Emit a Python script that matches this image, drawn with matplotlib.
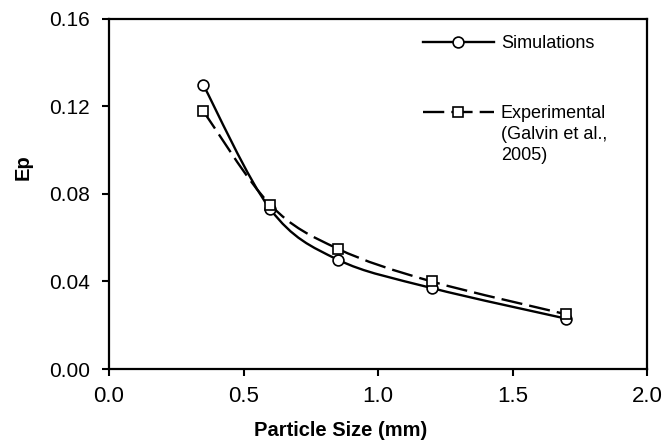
import numpy as np
import matplotlib
matplotlib.use("Agg")
import matplotlib.pyplot as plt
from matplotlib.path import Path
from matplotlib.patches import PathPatch
from matplotlib.lines import Line2D
from matplotlib.legend_handler import HandlerLine2D

# ---- data ----
particle_size = [0.35, 0.6, 0.85, 1.2, 1.7]
ep_simulations = [0.130, 0.073, 0.050, 0.037, 0.023]
ep_experimental = [0.118, 0.075, 0.055, 0.040, 0.025]
x_ticks = [0.0, 0.5, 1.0, 1.5, 2.0]
y_ticks = [0.00, 0.04, 0.08, 0.12, 0.16]
label_sim = "Simulations"
label_exp = "Experimental\n(Galvin et al.,\n2005)"

plt.rcParams['font.family'] = ['Liberation Sans', 'DejaVu Sans']


def smooth_path(x, y):
    """Excel-like smoothed line: cubic Bezier through the data points."""
    pts = np.column_stack([x, y]).astype(float)
    n = len(pts)
    verts = [pts[0]]
    codes = [Path.MOVETO]
    for i in range(n - 1):
        p0 = pts[i - 1] if i > 0 else pts[i]
        p1 = pts[i]
        p2 = pts[i + 1]
        p3 = pts[i + 2] if i + 2 < n else pts[i + 1]
        c1 = p1 + (p2 - p0) / 6.0
        c2 = p2 - (p3 - p1) / 6.0
        verts += [c1, c2, p2]
        codes += [Path.CURVE4] * 3
    return Path(verts, codes)


class ShiftedHandler(HandlerLine2D):
    def __init__(self, shift=0.0, **kw):
        super().__init__(**kw)
        self.shift = shift

    def create_artists(self, legend, orig_handle, xdescent, ydescent,
                       width, height, fontsize, trans):
        arts = super().create_artists(legend, orig_handle, xdescent, ydescent,
                                      width, height, fontsize, trans)
        for a in arts:
            a.set_ydata(np.asarray(a.get_ydata(), dtype=float) + self.shift * fontsize)
        return arts


fig = plt.figure(figsize=(6.63, 4.44), dpi=100)
ax = fig.add_axes([109 / 663, 75 / 444, 538 / 663, 350 / 444])

lw = 1.7
dash = (0, (9.0, 3.0))
mk = dict(markersize=7.8, markerfacecolor='white', markeredgecolor='black',
          markeredgewidth=1.2)

ax.add_patch(PathPatch(smooth_path(particle_size, ep_simulations), fill=False,
                       edgecolor='black', linewidth=lw, zorder=2))
ax.add_patch(PathPatch(smooth_path(particle_size, ep_experimental), fill=False,
                       edgecolor='black', linewidth=lw, linestyle=dash, zorder=2))
ax.plot(particle_size, ep_simulations, linestyle='none', marker='o', zorder=3, **mk)
ax.plot(particle_size, ep_experimental, linestyle='none', marker='s', zorder=4, **mk)

ax.set_xlim(0, 2.0)
ax.set_ylim(0, 0.16)
ax.set_xticks(x_ticks)
ax.set_yticks(y_ticks)
ax.set_xticklabels([f"{v:.1f}" for v in x_ticks], fontsize=16)
ax.set_yticklabels([f"{v:.2f}" for v in y_ticks], fontsize=15)
ax.tick_params(direction='out', length=5, width=1.5, color='black')
ax.tick_params(axis='y', pad=8.5)
ax.tick_params(axis='x', pad=7)

for s in ['top', 'right', 'left', 'bottom']:
    ax.spines[s].set_linewidth(1.6)
    ax.spines[s].set_color('black')

ax.set_xlabel("Particle Size (mm)", fontsize=14.5, fontweight='bold', va='center')
ax.set_ylabel("Ep", fontsize=14.5, fontweight='bold', va='center')
ax.xaxis.set_label_coords(0.431, -0.177)
ax.yaxis.set_label_coords(-0.160, 0.576)

h_sim = Line2D([], [], color='black', linewidth=lw, marker='o', **mk)
h_exp = Line2D([], [], color='black', linewidth=lw, linestyle=dash, marker='s', **mk)
leg = ax.legend([h_sim, h_exp], [label_sim, label_exp],
                loc='upper left', bbox_to_anchor=(0.584, 0.953),
                frameon=False, fontsize=13, borderpad=0, borderaxespad=0,
                handlelength=3.9, handletextpad=0.4, labelspacing=2.9,
                handler_map={h_exp: ShiftedHandler(shift=1.25)})
for t in leg.get_texts():
    t.set_linespacing(1.3)

fig.savefig("out.png", dpi=100)
